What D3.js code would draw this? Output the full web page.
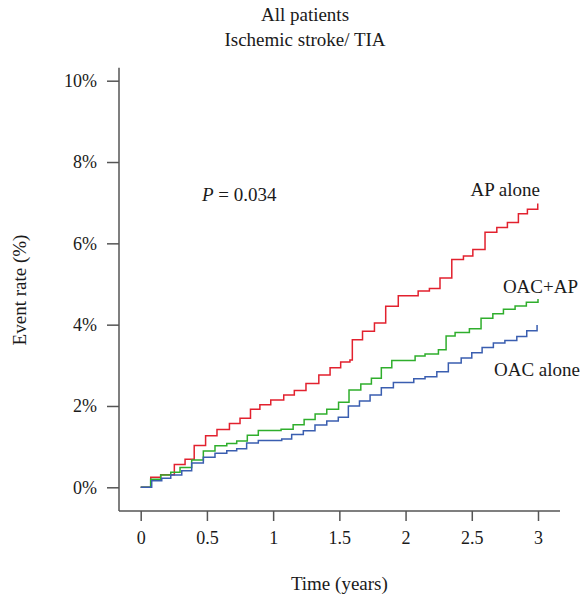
<!DOCTYPE html>
<html>
<head>
<meta charset="utf-8">
<script src="https://d3js.org/d3.v7.min.js"></script>
<style>
	body { margin: 0; padding: 0; background: #fff; }
	svg text { font-family: "Liberation Serif", "Times New Roman", serif; fill: #1a1a1a; }
	.axis path { display: none; }
	.axis line, .axisLine { stroke: #555; stroke-width: 1.5; }
	.axis text { font-size: 18px; }
	.curve { fill: none; stroke-width: 1.5; }
	.title { font-size: 19px; }
	.lab { font-size: 19px; }
</style>
</head>
<body>
<div id="chart"></div>
<script>
	// time in years, cumulative event rate in %
	var xTicks = [0, 0.5, 1, 1.5, 2, 2.5, 3];
	var yTicks = [0, 2, 4, 6, 8, 10];

	var apAlone = [[0,0],[0.076,0.25],[0.151,0.31],[0.254,0.56],[0.335,0.69],[0.404,1.03],[0.49,1.27],[0.576,1.42],[0.67,1.57],[0.75,1.70],[0.829,1.92],[0.90,2.03],[0.982,2.15],[1.08,2.27],[1.16,2.38],[1.248,2.55],[1.345,2.76],[1.43,2.94],[1.51,3.08],[1.58,3.13],[1.598,3.63],[1.675,3.84],[1.765,4.04],[1.85,4.45],[1.945,4.71],[2.095,4.83],[2.18,4.89],[2.26,5.15],[2.349,5.60],[2.437,5.69],[2.508,5.85],[2.60,6.27],[2.689,6.39],[2.769,6.51],[2.852,6.73],[2.92,6.84],[2.998,6.98]];

	var oacAp = [[0,0],[0.075,0.20],[0.151,0.30],[0.227,0.37],[0.297,0.49],[0.385,0.67],[0.473,0.89],[0.561,1.02],[0.65,1.08],[0.725,1.14],[0.805,1.28],[0.888,1.40],[1.06,1.43],[1.151,1.54],[1.234,1.67],[1.317,1.80],[1.405,1.92],[1.494,2.09],[1.573,2.39],[1.662,2.54],[1.742,2.68],[1.817,2.94],[1.896,3.12],[2.072,3.23],[2.147,3.28],[2.248,3.38],[2.306,3.72],[2.374,3.81],[2.482,3.90],[2.57,4.16],[2.659,4.27],[2.739,4.38],[2.827,4.46],[2.912,4.55],[3.0,4.63]];

	var oacAlone = [[0,0],[0.083,0.16],[0.159,0.22],[0.227,0.30],[0.31,0.41],[0.385,0.60],[0.473,0.74],[0.561,0.84],[0.65,0.90],[0.725,0.95],[0.80,1.09],[0.888,1.15],[1.065,1.19],[1.14,1.30],[1.228,1.39],[1.316,1.53],[1.405,1.63],[1.492,1.72],[1.568,2.00],[1.652,2.12],[1.732,2.27],[1.817,2.45],[1.908,2.58],[2.062,2.67],[2.147,2.72],[2.236,2.84],[2.323,3.06],[2.42,3.18],[2.50,3.31],[2.578,3.44],[2.663,3.55],[2.75,3.61],[2.84,3.71],[2.915,3.85],[2.993,3.99]];

	var series = [
		{name: "AP alone", values: apAlone, color: "#e2212e"},
		{name: "OAC+AP", values: oacAp, color: "#2fae2c"},
		{name: "OAC alone", values: oacAlone, color: "#3a5eb0"}
	];

	var W = 581, H = 603;

	var x = d3.scaleLinear().domain([0, 3]).range([140.7, 538]);
	var y = d3.scaleLinear().domain([0, 10]).range([487.3, 80.7]);

	var axisX = 119, axisY = 511;

	var svg = d3.select("#chart").append("svg")
		.attr("width", W)
		.attr("height", H);

	// axis lines
	svg.append("line").attr("class", "axisLine")
		.attr("x1", axisX).attr("x2", axisX)
		.attr("y1", y(10) - 13).attr("y2", axisY);
	svg.append("line").attr("class", "axisLine")
		.attr("x1", axisX).attr("x2", x(3) + 22)
		.attr("y1", axisY).attr("y2", axisY);

	svg.append("g")
		.attr("class", "axis")
		.attr("transform", "translate(" + axisX + ",0)")
		.call(d3.axisLeft(y).tickValues(yTicks).tickSize(12).tickPadding(10)
			.tickFormat(function(d) { return d + "%"; }));

	svg.append("g")
		.attr("class", "axis")
		.attr("transform", "translate(0," + axisY + ")")
		.call(d3.axisBottom(x).tickValues(xTicks).tickSize(10).tickPadding(10)
			.tickFormat(function(d) { return d; }));

	var line = d3.line()
		.curve(d3.curveStepAfter)
		.x(function(d) { return x(d[0]); })
		.y(function(d) { return y(d[1]); });

	svg.selectAll(".curve")
		.data(series)
		.enter().append("path")
		.attr("class", "curve")
		.attr("d", function(d) { return line(d.values); })
		.style("stroke", function(d) { return d.color; });

	// titles
	svg.append("text").attr("class", "title")
		.attr("x", 305).attr("y", 21)
		.attr("text-anchor", "middle")
		.text("All patients");
	svg.append("text").attr("class", "title")
		.attr("x", 305).attr("y", 46)
		.attr("text-anchor", "middle")
		.text("Ischemic stroke/ TIA");

	svg.append("text").attr("class", "lab")
		.attr("transform", "translate(26," + 290 + ") rotate(-90)")
		.attr("text-anchor", "middle")
		.text("Event rate (%)");

	svg.append("text").attr("class", "lab")
		.attr("x", (x(0) + x(3)) / 2).attr("y", 590)
		.attr("text-anchor", "middle")
		.text("Time (years)");

	// series labels
	svg.append("text").attr("class", "lab")
		.attr("x", 540).attr("y", 196)
		.attr("text-anchor", "end")
		.text("AP alone");
	svg.append("text").attr("class", "lab")
		.attr("x", 578).attr("y", 293)
		.attr("text-anchor", "end")
		.text("OAC+AP");
	svg.append("text").attr("class", "lab")
		.attr("x", 580).attr("y", 376)
		.attr("text-anchor", "end")
		.text("OAC alone");

	var p = svg.append("text").attr("class", "lab")
		.attr("x", 202).attr("y", 201);
	p.append("tspan").style("font-style", "italic").text("P");
	p.append("tspan").text(" = 0.034");
</script>
</body>
</html>
